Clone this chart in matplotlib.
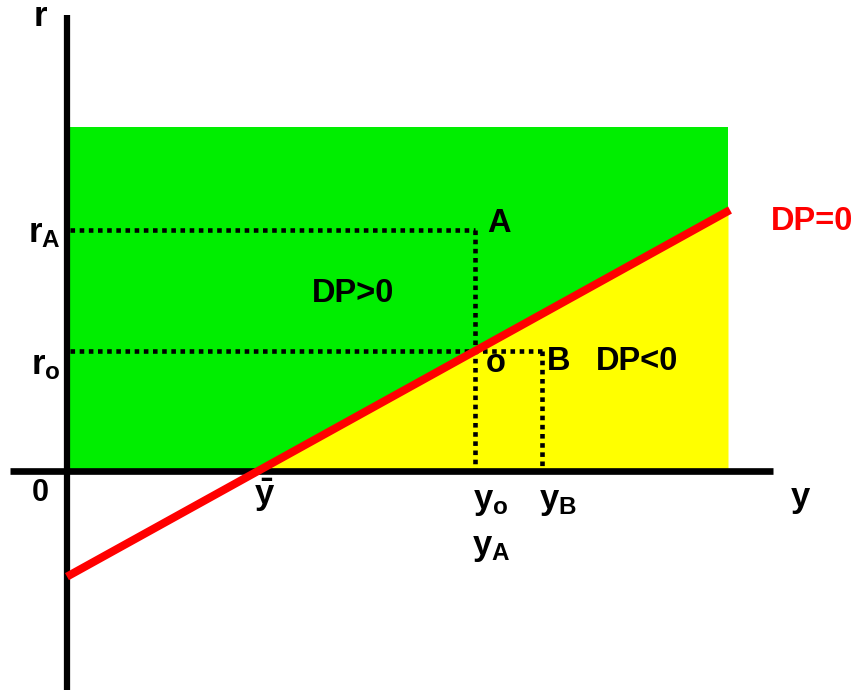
import matplotlib
matplotlib.use("Agg")
import matplotlib.pyplot as plt
import numpy as np

# model coordinates (origin where the axes cross)
y_bar = 191
y_o = 408
y_B = 475
r_o = 120
r_A = 241
slope = r_o / (y_o - y_bar)
line_x = np.array([0, 663])
box_x = [3, 661]
box_top = 344

plt.rcParams['mathtext.fontset'] = 'custom'
plt.rcParams['mathtext.rm'] = 'Liberation Sans:bold'
plt.rcParams['mathtext.bf'] = 'Liberation Sans:bold'
plt.rcParams['mathtext.it'] = 'Liberation Sans:bold'
plt.rcParams['font.family'] = 'Liberation Sans'

fig = plt.figure(figsize=(8.56, 6.9), dpi=100)
ax = fig.add_axes([0, 0, 1, 1])
ax.set_xlim(-67, 789)
ax.set_ylim(-219, 471)
ax.axis('off')

# green region
ax.fill_between(box_x, 0, box_top, color='#00ee00', lw=0, zorder=1)
# yellow region under the DP=0 line
xs = np.array([y_bar, box_x[1]])
ax.fill_between(xs, 0, slope * (xs - y_bar), color='#ffff00', lw=0, zorder=2)

# dotted guides
dot = dict(color='black', lw=3.3, linestyle=(0, (1, 1)), zorder=3)
ax.plot([3, y_o], [r_A, r_A], **dot)
ax.plot([y_o, y_o], [r_A, 0], **dot)
ax.plot([3, y_B], [r_o, r_o], **dot)
ax.plot([y_B, y_B], [r_o, 0], **dot)

# axes
ax.plot([0, 0], [-219, 456], color='black', lw=4.5, solid_capstyle='butt', zorder=4)
ax.plot([-57, 706], [0, 0], color='black', lw=4.8, solid_capstyle='butt', zorder=4)

# DP=0 line
ax.plot(line_x, slope * (line_x - y_bar), color='#ff0000', lw=5.8,
        solid_capstyle='butt', zorder=5)

big = 25
t = dict(fontsize=big, fontweight='bold', ha='center', va='center', zorder=6)
ax.text(-27, 455, 'r', **t)
ax.text(-23, 238, r'$\mathrm{r_A}$', **t)
ax.text(-21, 106, r'$\mathrm{r_o}$', **t)
ax.text(-27, -22, '0', fontsize=22, fontweight='bold', ha='center', va='center')
ax.text(198, -24, r'$\bar{\mathrm{y}}$', **t)
ax.text(424, -31, r'$\mathrm{y_o}$', **t)
ax.text(424, -76, r'$\mathrm{y_A}$', **t)
ax.text(491, -31, r'$\mathrm{y_B}$', **t)
ax.text(733, -27, 'y', **t)

s = dict(fontsize=23.5, fontweight='bold', ha='center', va='center', zorder=6)
ax.text(432, 247, 'A', **s)
ax.text(286, 178, 'DP>0', **s)
ax.text(429, 108, 'o', **s)
ax.text(492, 110, 'B', **s)
ax.text(570, 110, 'DP<0', **s)
ax.text(745, 249, 'DP=0', color='#ff0000', **s)

fig.savefig('out.png', dpi=100)
